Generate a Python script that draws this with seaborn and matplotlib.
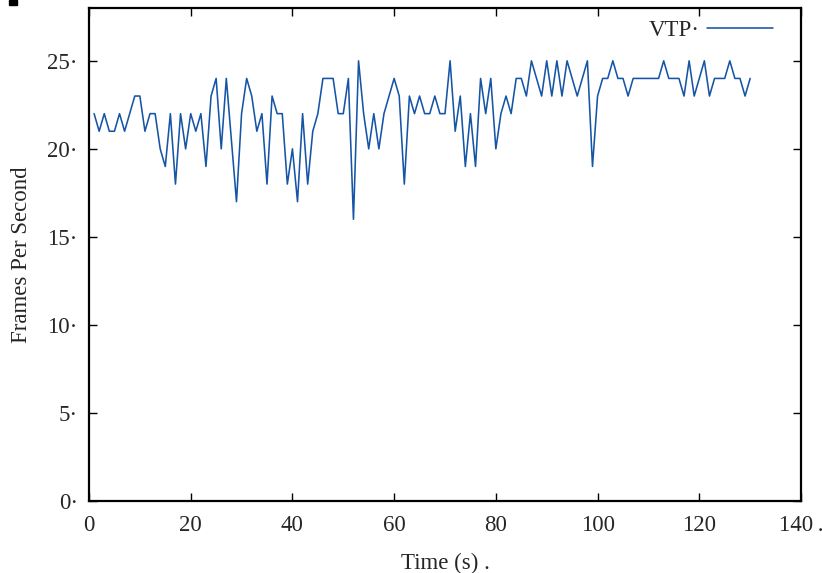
import numpy as np
import pandas as pd
import matplotlib
matplotlib.use("Agg")
import matplotlib.pyplot as plt
from matplotlib.patches import Rectangle
import seaborn as sns

# ---- data ----
time_s = list(range(1, 131))
fps = [22, 21, 22, 21, 21, 22, 21, 22, 23, 23,
       21, 22, 22, 20, 19, 22, 18, 22, 20, 22,
       21, 22, 19, 23, 24, 20, 24, 20.5, 17, 22,
       24, 23, 21, 22, 18, 23, 22, 22, 18, 20,
       17, 22, 18, 21, 22, 24, 24, 24, 22, 22,
       24, 16, 25, 22, 20, 22, 20, 22, 23, 24,
       23, 18, 23, 22, 23, 22, 22, 23, 22, 22,
       25, 21, 23, 19, 22, 19, 24, 22, 24, 20,
       22, 23, 22, 24, 24, 23, 25, 24, 23, 25,
       23, 25, 23, 25, 24, 23, 24, 25, 19, 23,
       24, 24, 25, 24, 24, 23, 24, 24, 24, 24,
       24, 24, 25, 24, 24, 24, 23, 25, 23, 24,
       25, 23, 24, 24, 24, 25, 24, 24, 23, 24]
series_label = "VTP\u00b7"
x_ticks = [0, 20, 40, 60, 80, 100, 120, 140]
x_tick_labels = ["0", "20", "40", "60", "80", "100", "120", "140\u2009."]
y_ticks = [0, 5, 10, 15, 20, 25]
y_tick_labels = ["0\u00b7", "5\u00b7", "10\u00b7", "15\u00b7", "20\u00b7", "25\u00b7"]
x_label = "Time (s) ."
y_label = "Frames Per Second"

df = pd.DataFrame({"time": time_s, "fps": fps})

sns.set_style("ticks")
plt.rcParams["font.family"] = ["Liberation Serif", "DejaVu Serif"]

W, H = 822, 573
fig = plt.figure(figsize=(W / 100, H / 100), dpi=100)
ax = fig.add_axes([89 / W, 1 - 501 / H, (801 - 89) / W, (501 - 8) / H])

line_color = "#1655a6"
sns.lineplot(data=df, x="time", y="fps", ax=ax, color=line_color,
             linewidth=1.15, label=series_label)

ax.set_xlim(0, 140)
ax.set_ylim(0, 28)
ax.set_xticks(x_ticks)
ax.set_xticklabels(x_tick_labels)
ax.set_yticks(y_ticks)
ax.set_yticklabels(y_tick_labels)

fs = 16.5
ax.tick_params(axis="both", which="both", direction="in", length=6,
               width=1.0, color="black", labelsize=fs, top=True, right=True)
ax.tick_params(axis="x", pad=10)
ax.tick_params(axis="y", pad=8)
for s in ax.spines.values():
    s.set_visible(True)
    s.set_linewidth(1.6)
    s.set_color("black")

ax.set_xlabel(x_label, fontsize=fs, labelpad=12)
ax.set_ylabel(y_label, fontsize=fs, labelpad=11)

leg = ax.legend(loc="upper right", bbox_to_anchor=(0.961, 0.975),
                frameon=False, markerfirst=False, fontsize=fs,
                handlelength=2.9, handletextpad=0.3, borderpad=0,
                borderaxespad=0)

# small black corner mark present in the reference
fig.patches.append(Rectangle((9 / W, 1 - 5 / H), 8 / W, 5 / H,
                             transform=fig.transFigure, color="black",
                             zorder=5))

fig.savefig("out.png", dpi=100)
